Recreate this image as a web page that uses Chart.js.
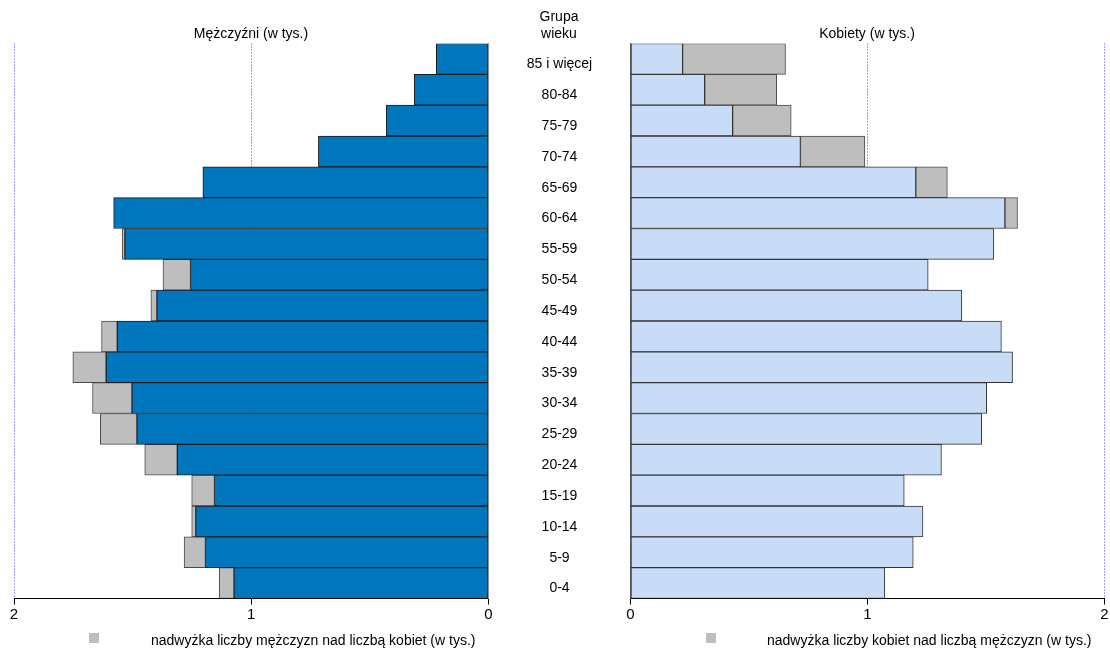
<!DOCTYPE html>
<html>
<head>
<meta charset="utf-8">
<script src="https://cdn.jsdelivr.net/npm/chart.js@4/dist/chart.umd.min.js"></script>
<style>
  html, body { margin: 0; padding: 0; background: #fff; width: 1110px; height: 650px; overflow: hidden; }
  body { position: relative; font-family: "Liberation Sans", Arial, sans-serif; color: #000; }
  canvas { position: absolute; top: 0; }
  .t { position: absolute; font-size: 14px; white-space: nowrap; transform: translate(-50%, -50%); }
  .lg { position: absolute; font-size: 14px; white-space: nowrap; }
  .sq { position: absolute; width: 10px; height: 10px; background: #BEBEBE; }
</style>
</head>
<body>
<canvas id="left" width="600" height="650" style="left:0;width:600px;height:650px"></canvas>
<canvas id="right" width="510" height="650" style="left:600px;width:510px;height:650px"></canvas>

<div class="t" style="left:251px;top:33px">Mężczyźni (w tys.)</div>
<div class="t" style="left:867px;top:33px">Kobiety (w tys.)</div>
<div class="t" style="left:559px;top:16px">Grupa</div>
<div class="t" style="left:559px;top:33px">wieku</div>

<div class="sq" style="left:89px;top:633px"></div>
<div class="lg" style="left:151px;top:632px">nadwyżka liczby mężczyzn nad liczbą kobiet (w tys.)</div>
<div class="sq" style="left:706px;top:633px"></div>
<div class="lg" style="left:767px;top:632px">nadwyżka liczby kobiet nad liczbą mężczyzn (w tys.)</div>

<script>
// Age groups (top to bottom)
const ageGroups = ["85 i więcej","80-84","75-79","70-74","65-69","60-64","55-59","50-54","45-49",
                   "40-44","35-39","30-34","25-29","20-24","15-19","10-14","5-9","0-4"];
// Men (thousands)
const men =   [0.220,0.313,0.431,0.717,1.204,1.580,1.544,1.372,1.423,
               1.631,1.752,1.669,1.636,1.449,1.251,1.251,1.283,1.135];
// Women (thousands)
const women = [0.654,0.617,0.678,0.989,1.337,1.633,1.533,1.256,1.398,
               1.565,1.612,1.503,1.482,1.312,1.155,1.234,1.193,1.073];
// Axis ticks
const axisTicks = [0, 1, 2];

const common = men.map((m, i) => Math.min(m, women[i]));
const menExcess = men.map((m, i) => m > women[i] ? +(m - women[i]).toFixed(3) : null);
const womenExcess = women.map((w, i) => w > men[i] ? +(w - men[i]).toFixed(3) : null);

const FONT = "'Liberation Sans', Arial, sans-serif";
Chart.defaults.font.family = FONT;
Chart.defaults.color = '#000';

function xScale(reverse) {
  return {
    type: 'linear', min: 0, max: 2, reverse: reverse, stacked: true,
    afterBuildTicks: s => { s.ticks = axisTicks.map(v => ({ value: v })); },
    afterFit: s => { s.height = 30; },
    ticks: { font: { size: 15 }, color: '#000', padding: 1, maxRotation: 0 },
    grid: {
      color: c => (c.tick && c.tick.value === 0) ? 'rgba(0,0,0,0)' : '#3c3cff',
      lineWidth: 1, drawTicks: true, tickLength: 6, tickColor: '#000', tickWidth: 1, tickBorderDash: []
    },
    border: { display: true, color: '#000', width: 1, dash: [1, 2] }
  };
}
function yScale(pos, borderColor) {
  return {
    type: 'category', position: pos, stacked: true, offset: true,
    ticks: { display: false },
    grid: { display: false, drawTicks: false },
    border: { display: true, color: borderColor, width: 1 },
    afterFit: s => { s.width = 0; }
  };
}

const labelPlugin = {
  id: 'ageLabels',
  afterDraw(chart) {
    const ys = chart.scales.y, ctx = chart.ctx;
    ctx.save();
    ctx.font = '14px ' + FONT;
    ctx.fillStyle = '#000';
    ctx.textAlign = 'center';
    ctx.textBaseline = 'middle';
    ageGroups.forEach((g, i) => {
      ctx.fillText(g, 559.5, ys.getPixelForValue(i) + 5.5);
    });
    ctx.restore();
  }
};

const common_opts = {
  responsive: false, animation: false, devicePixelRatio: 1, indexAxis: 'y',
  plugins: { legend: { display: false }, tooltip: { enabled: false } }
};

new Chart(document.getElementById('left'), {
  type: 'bar',
  data: {
    labels: ageGroups,
    datasets: [
      { data: common, backgroundColor: '#0077BD', borderColor: '#1c1c1c', borderWidth: 1, borderSkipped: false,
        barPercentage: 1, categoryPercentage: 1 },
      { data: menExcess, backgroundColor: '#BEBEBE', borderColor: '#4a4a4a', borderWidth: 1, borderSkipped: false,
        barPercentage: 1, categoryPercentage: 1 }
    ]
  },
  options: Object.assign({}, common_opts, {
    layout: { padding: { left: 14, right: 111.5, top: 43.5, bottom: 21.5 } },
    scales: { x: xScale(true), y: yScale('right', '#9a9a9a') }
  }),
  plugins: [labelPlugin]
});

new Chart(document.getElementById('right'), {
  type: 'bar',
  data: {
    labels: ageGroups,
    datasets: [
      { data: common, backgroundColor: '#C8DCF7', borderColor: '#333333', borderWidth: 1, borderSkipped: false,
        barPercentage: 1, categoryPercentage: 1 },
      { data: womenExcess, backgroundColor: '#BEBEBE', borderColor: '#4a4a4a', borderWidth: 1, borderSkipped: false,
        barPercentage: 1, categoryPercentage: 1 }
    ]
  },
  options: Object.assign({}, common_opts, {
    layout: { padding: { left: 30.5, right: 5.5, top: 43.5, bottom: 21.5 } },
    scales: { x: xScale(false), y: yScale('left', '#555555') }
  })
});
</script>
</body>
</html>
